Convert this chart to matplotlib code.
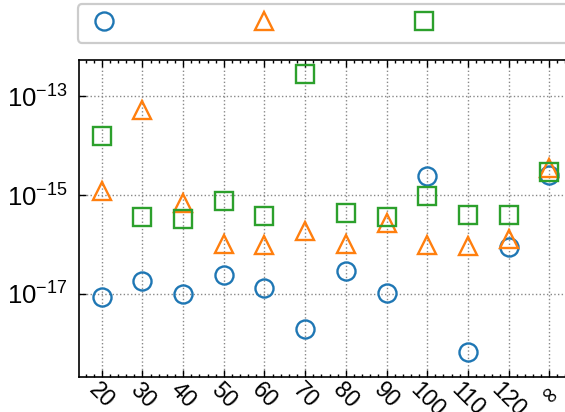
import numpy as np
import matplotlib
matplotlib.use("Agg")
import matplotlib.pyplot as plt
from matplotlib.lines import Line2D

plt.rcParams['font.family'] = ['Liberation Sans', 'DejaVu Sans']
plt.rcParams['mathtext.fontset'] = 'dejavusans'
plt.rcParams['xtick.labelsize'] = 16.5
plt.rcParams['ytick.labelsize'] = 18.5

# order sizes, the last column is the infinite case
orders = [20, 30, 40, 50, 60, 70, 80, 90, 100, 110, 120, 130]
order_labels = ['20', '30', '40', '50', '60', '70', '80', '90', '100', '110', '120', r'$\infty$']

# errors as log10 values
log_err_circle = [-17.06, -16.73, -17.00, -16.61, -16.89, -17.70, -16.53, -16.99, -14.62, -18.17, -16.06, -14.60]
log_err_triangle = [-14.92, -13.28, -15.17, -16.00, -16.01, -15.72, -16.00, -15.57, -16.02, -16.04, -15.89, -14.46]
log_err_square = [-13.80, -15.44, -15.48, -15.13, -15.42, -12.56, -15.36, -15.44, -15.02, -15.40, -15.41, -14.54]

series = [
    (log_err_circle, 'o', '#1f77b4'),
    (log_err_triangle, '^', '#ff7f0e'),
    (log_err_square, 's', '#2ca02c'),
]

fig = plt.figure(figsize=(5.65, 4.12), dpi=100)
ax = fig.add_axes([79 / 565, 1 - 377 / 412, (572 - 79) / 565, 317 / 412])

handles = []
for vals, mk, col in series:
    h, = ax.plot(orders, 10.0 ** np.asarray(vals), linestyle='none', marker=mk,
                 markersize=13, markerfacecolor='none', markeredgecolor=col,
                 markeredgewidth=1.7)
    handles.append(h)

ax.set_yscale('log')
ax.set_ylim(10 ** -18.68, 10 ** -12.27)
ax.set_xlim(14.4, 135.6)

ax.set_yticks([1e-17, 1e-15, 1e-13])
ax.yaxis.set_minor_locator(matplotlib.ticker.NullLocator())
ax.set_xticks(orders)
ax.set_xticklabels(order_labels, rotation=-45, ha='center')
ax.xaxis.set_minor_locator(matplotlib.ticker.MultipleLocator(2))

ax.tick_params(axis='both', which='both', direction='in',
               top=True, right=False, width=1.0)
ax.tick_params(axis='x', which='major', length=5, pad=1)
ax.tick_params(axis='x', which='minor', length=2.5)
ax.tick_params(axis='y', which='major', length=5, pad=8)

ax.grid(True, which='major', linestyle=':', color='#888888', linewidth=1.0)

for sp in ax.spines.values():
    sp.set_linewidth(1.2)

# fourth column is an empty slot so the frame runs on to the right
blank = Line2D([], [], linestyle='none')
lgd = ax.legend(handles + [blank], ['', '', '', ''], loc='lower left',
                bbox_to_anchor=(-0.003, 1.054), ncol=4, frameon=True,
                fancybox=True, edgecolor='#cccccc', framealpha=1.0,
                handletextpad=0.0, borderaxespad=0.0, borderpad=0.4,
                fontsize=16, handlelength=1.6, columnspacing=5.6)
lgd.get_frame().set_linewidth(1.6)

fig.savefig('out.png', dpi=100)
